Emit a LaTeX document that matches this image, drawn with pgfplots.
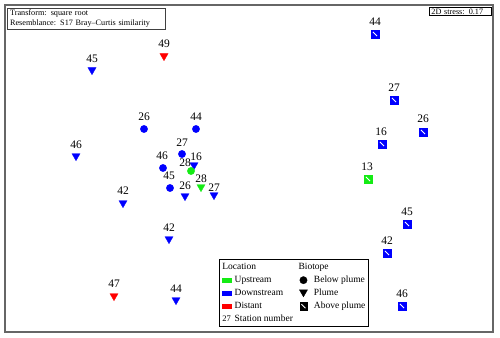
\documentclass[border=0pt]{standalone}
\usepackage{pgfplots}
\usepackage{pgfplotstable}
\pgfplotsset{compat=1.18}
\usepackage{fontspec}
\setmainfont{Liberation Serif}
\definecolor{cgreen}{RGB}{20,235,20}
\definecolor{cblue}{RGB}{0,0,255}
\definecolor{cred}{RGB}{255,0,0}
\pgfdeclareplotmark{abovesq}{%
  \pgfpathrectangle{\pgfpoint{-\pgfplotmarksize}{-\pgfplotmarksize}}{\pgfpoint{2\pgfplotmarksize}{2\pgfplotmarksize}}%
  \pgfusepathqfillstroke
  \pgfscope
  \pgfsetstrokecolor{white}\pgfsetlinewidth{0.9pt}%
  \pgfpathmoveto{\pgfpoint{-0.55\pgfplotmarksize}{0.55\pgfplotmarksize}}%
  \pgfpathlineto{\pgfpoint{0.55\pgfplotmarksize}{-0.55\pgfplotmarksize}}%
  \pgfusepathqstroke
  \endpgfscope}
% x y (pixel positions), station label, label offset dx dy
\pgfplotstableread{
x y lab dx dy
144 129 26 0 12
196 129 44 0 12
182 154 27 0 11
163 168 46 -1 12
170 188 45 -1 12
}\bluecirc
\pgfplotstableread{
x y lab dx dy
92 70 45 0 11
76 156 46 0 11
194 165 16 2 8
185 196 26 0 10
214 195 27 0 7.5
123 203 42 0 12
169 239 42 0 11
176 300 44 0 11
}\bluetri
\pgfplotstableread{
x y lab dx dy
375 34 44 0 12
394 100 27 0 12
423 132 26 0 13
382 144 16 -1 12
407 224 45 0 12
387 253 42 0 12
402 306 46 0 12
}\bluesq
\pgfplotstableread{
x y lab dx dy
164 56 49 0 12
114 296 47 0 12
}\redtri
\pgfplotstableread{
x y lab dx dy
191 171 28 -6 8
}\greencirc
\pgfplotstableread{
x y lab dx dy
201 187 28 0 8
}\greentri
\pgfplotstableread{
x y lab dx dy
368 179 13 -1 12
}\greensq
\pgfplotsset{
  lab/.style={only marks, forget plot, point meta=explicit symbolic,
    nodes near coords, nodes near coords align={center},
    visualization depends on={\thisrow{dx}\as\dx},
    visualization depends on={\thisrow{dy}\as\dy},
    every node near coord/.append style={font=\fontsize{11.5}{13}\selectfont, text=black,
      inner sep=0pt, anchor=center, xshift=\dx pt, yshift=\dy pt}},
  circ/.style={mark=*, mark size=3.7pt, line width=0.3pt},
  tri/.style={mark=triangle*, mark size=4.7pt, mark options={rotate=180}, line width=0.3pt},
  sq/.style={mark=abovesq, mark size=3.7pt, line width=0.3pt},
  legmark/.style={legend image code/.code={\path[draw=none,fill=none] (0pt,0pt) -- (13pt,0pt);
      \draw[mark repeat=1,mark phase=1,##1] plot coordinates {(5.5pt,0pt)};}},
  legmarkt/.style={legend image code/.code={\path[draw=none,fill=none] (0pt,0pt) -- (13pt,0pt);
      \draw[mark repeat=1,mark phase=1,##1] plot coordinates {(5.5pt,1pt)};}},
}
\begin{document}
\begin{tikzpicture}
\useasboundingbox (0,0) rectangle (500pt,337pt);
\begin{axis}[at={(5pt,5pt)}, anchor=south west, scale only axis,
  width=488pt, height=327pt, xmin=5, xmax=493, ymin=5, ymax=332, y dir=reverse,
  xtick=\empty, ytick=\empty, clip=false,
  axis line style={draw=black!60, line width=2pt},
  legend columns=5, transpose legend, legend cell align=left,
  legend style={at={(0.4385,0.2232)}, anchor=north west, draw=black, line width=1.3pt,
    fill=white, inner xsep=2pt, inner ysep=2pt, font=\fontsize{9.5}{11}\selectfont,
    nodes={inner sep=1pt, text height=7pt, text depth=2pt},
    row sep=2pt,
    /tikz/every even column/.append style={column sep=4pt},
    /tikz/every odd column/.append style={column sep=2pt}},
]
\addplot[lab, circ, cblue, fill=cblue] table[meta=lab] {\bluecirc};
\addplot[lab, tri, cblue, fill=cblue] table[meta=lab] {\bluetri};
\addplot[lab, sq, cblue, fill=cblue] table[meta=lab] {\bluesq};
\addplot[lab, tri, cred, fill=cred] table[meta=lab] {\redtri};
\addplot[lab, circ, cgreen, fill=cgreen] table[meta=lab] {\greencirc};
\addplot[lab, tri, cgreen, fill=cgreen] table[meta=lab] {\greentri};
\addplot[lab, sq, cgreen, fill=cgreen] table[meta=lab] {\greensq};
% legend column 1
\addlegendimage{legend image code/.code={\node[anchor=west, inner sep=0pt, overlay, draw=none, font=\fontsize{9.5}{11}\selectfont] at (0pt,0pt) {Location};}}
\addlegendentry{}
\addlegendimage{legend image code/.code={\fill[cgreen, draw=none] (0pt,-2.6pt) rectangle (10pt,2.6pt);}}
\addlegendentry{Upstream}
\addlegendimage{legend image code/.code={\fill[cblue, draw=none] (0pt,-2.6pt) rectangle (10pt,2.6pt);}}
\addlegendentry{Downstream}
\addlegendimage{legend image code/.code={\fill[cred, draw=none] (0pt,-2.6pt) rectangle (10pt,2.6pt);}}
\addlegendentry{Distant}
\addlegendimage{legend image code/.code={\node[anchor=west, inner sep=0pt, draw=none, font=\fontsize{8.5}{10}\selectfont] at (0pt,0pt) {27};}}
\addlegendentry{Station number}
% legend column 2
\addlegendimage{legend image code/.code={\node[anchor=west, inner sep=0pt, overlay, draw=none, font=\fontsize{9.5}{11}\selectfont] at (0pt,0pt) {Biotope};}}
\addlegendentry{}
\addlegendimage{only marks, black, fill=black, mark=*, mark size=3.7pt, line width=0.3pt, legmark}
\addlegendentry{Below plume}
\addlegendimage{only marks, black, fill=black, mark=triangle*, mark size=4.7pt, mark options={rotate=180}, line width=0.3pt, legmarkt}
\addlegendentry{Plume}
\addlegendimage{only marks, black, fill=black, mark=abovesq, mark size=3.7pt, line width=0.3pt, legmark}
\addlegendentry{Above plume}
\addlegendimage{empty legend}
\addlegendentry{}
% annotation boxes
\node[anchor=north west, draw=black!75, line width=1.2pt, inner xsep=2.5pt, inner ysep=1.5pt,
  text width=153pt, align=left, font=\fontsize{8.2}{10}\selectfont]
  at (axis cs:7,8) {Transform: square root\\Resemblance: S17 Bray--Curtis similarity};
\node[anchor=north west, draw=black, line width=0.9pt, inner xsep=2pt, inner ysep=1.2pt,
  text width=58pt, align=left, font=\fontsize{8.2}{9}\selectfont]
  at (axis cs:429,7.5) {2D stress: 0.17};
\end{axis}
\end{tikzpicture}
\end{document}
